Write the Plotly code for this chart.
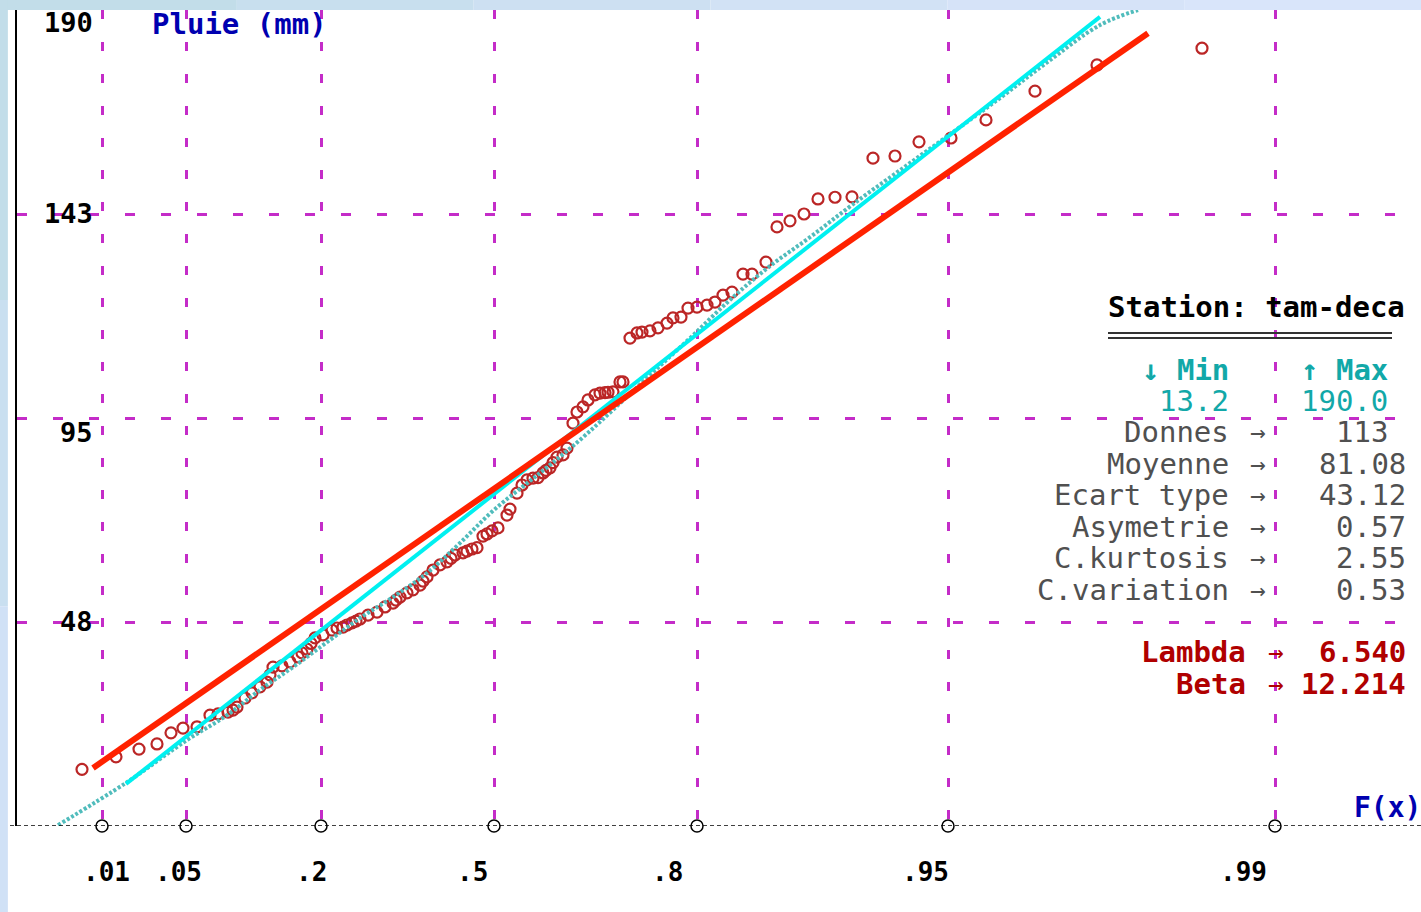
import plotly.graph_objects as go

# ---------------- data ----------------
# x axis: position on the probability paper (reduced variate of F(x))
tick_probs = [".01", ".05", ".2", ".5", ".8", ".95", ".99"]
tick_u = [-1.59, -1.17, -0.495, 0.37, 1.385, 2.64, 4.275]
tick_label_u = [-1.57, -1.21, -0.545, 0.26, 1.235, 2.525, 4.115]

y_ticks = [47.5, 95, 142.5, 190]
y_tick_text = ["48", "95", "143", "190"]
y_tick_label_v = [47.7, 91.7, 142.7, 187.2]

# observed rainfall (mm) against their plotting position
obs_u = [-1.69, -1.52, -1.405, -1.315, -1.245, -1.185, -1.115, -1.05, -1.01, -0.96,
         -0.935, -0.915, -0.875, -0.84, -0.80, -0.765, -0.75, -0.735, -0.69, -0.65,
         -0.61, -0.59, -0.565, -0.545, -0.525, -0.485, -0.44, -0.415, -0.385, -0.365,
         -0.34, -0.32, -0.30, -0.26, -0.215, -0.175, -0.135, -0.12, -0.10, -0.065,
         -0.035, 0.0, 0.015, 0.035, 0.065, 0.10, 0.135, 0.155, 0.175, 0.215,
         0.235, 0.26, 0.285, 0.315, 0.335, 0.36, 0.39, 0.435, 0.45, 0.485,
         0.51, 0.535, 0.565, 0.59, 0.615, 0.63, 0.65, 0.665, 0.685, 0.715,
         0.735, 0.765, 0.785, 0.815, 0.84, 0.875, 0.90, 0.925, 0.94, 0.965,
         1.00, 1.015, 1.05, 1.085, 1.11, 1.15, 1.19, 1.235, 1.265, 1.305,
         1.34, 1.385, 1.435, 1.475, 1.515, 1.56, 1.615, 1.66, 1.73, 1.785,
         1.85, 1.92, 1.99, 2.075, 2.16, 2.265, 2.375, 2.495, 2.655, 2.83,
         3.075, 3.385, 3.91]
obs_mm = [13.2, 16.1, 17.9, 19.1, 21.7, 22.8, 23.1, 25.8, 26.1, 26.5,
          27.0, 27.7, 29.8, 31.0, 32.4, 33.5, 35.2, 37.0, 37.3, 38.2,
          39.4, 40.3, 41.2, 42.5, 43.8, 44.5, 45.6, 46.1, 46.3, 46.8,
          47.3, 47.7, 48.2, 49.1, 49.8, 51.0, 51.9, 52.6, 53.3, 54.3,
          55.0, 56.1, 57.0, 58.0, 59.6, 60.8, 61.5, 62.3, 63.1, 63.6,
          64.0, 64.5, 64.8, 67.5, 68.0, 68.7, 69.4, 72.4, 73.8, 77.5,
          79.4, 80.6, 81.0, 81.1, 82.2, 82.8, 83.4, 84.6, 85.9, 86.4,
          88.0, 93.8, 96.4, 97.6, 99.2, 100.4, 100.8, 100.9, 101.0, 101.1,
          103.4, 103.4, 113.6, 114.8, 115.0, 115.3, 116.0, 117.1, 118.3, 118.5,
          120.6, 120.8, 121.3, 122.0, 123.6, 124.3, 128.5, 128.5, 131.3, 139.5,
          140.9, 142.5, 146.0, 146.4, 146.5, 155.5, 156.0, 159.3, 160.2, 164.4,
          171.1, 177.2, 181.1]

# fitted law (dotted curve)
fit_u = [-1.81, -1.465, -1.165, -0.965, -0.80, -0.635, -0.465, -0.30, -0.135, 0.035,
         0.20, 0.37, 0.60, 0.80, 0.965, 1.15, 1.35, 1.55, 1.745, 1.95,
         2.16, 2.40, 2.645, 2.90, 3.13, 3.40, 3.59]
fit_mm = [0.2, 10.2, 20.0, 25.8, 31.7, 37.0, 42.8, 48.4, 53.3, 58.9,
          65.9, 73.6, 82.2, 89.9, 96.9, 105.0, 113.6, 122.5, 130.2, 137.1,
          144.6, 152.7, 160.9, 169.5, 177.6, 186.5, 190.0]

# straight fits
cyan_u = [-1.47, 3.40]
cyan_mm = [9.8, 188.4]
red_u = [-1.635, 3.64]
red_mm = [13.5, 184.6]

station = "tam-deca"
v_min, v_max = "13.2", "190.0"
stat_names = ["Donnes", "Moyenne", "Ecart type", "Asymetrie", "C.kurtosis", "C.variation"]
stat_values = ["113\u00a0", "81.08", "43.12", "0.57", "2.55", "0.53"]
stat_v = [91.7, 84.3, 77.1, 69.6, 62.4, 54.9]
param_names = ["Lambda", "Beta"]
param_values = ["6.540", "12.214"]
param_v = [40.5, 33.1]

# ---------------- style ----------------
MONO = "DejaVu Sans Mono"
GRID = "#c42cc8"
TEAL = "#12a8a8"
GREY = "#505050"
DRED = "#b00000"
BLUE = "#0000b0"

fig = go.Figure()

fig.add_trace(go.Scatter(x=obs_u, y=obs_mm, mode="markers",
                         marker=dict(symbol="circle-open", size=11, color="#bb2626",
                                     line=dict(width=2.2, color="#bb2626")),
                         showlegend=False, hoverinfo="skip"))
fig.add_trace(go.Scatter(x=fit_u, y=fit_mm, mode="lines",
                         line=dict(color="#50bcbc", width=4, dash="3px,2px", shape="spline"),
                         showlegend=False, hoverinfo="skip"))
fig.add_trace(go.Scatter(x=cyan_u, y=cyan_mm, mode="lines",
                         line=dict(color="#00f0f0", width=4),
                         showlegend=False, hoverinfo="skip"))
fig.add_trace(go.Scatter(x=red_u, y=red_mm, mode="lines",
                         line=dict(color="#ff2200", width=6),
                         showlegend=False, hoverinfo="skip"))
fig.add_trace(go.Scatter(x=tick_u, y=[0] * len(tick_u), mode="markers",
                         marker=dict(symbol="circle-open", size=12, color="black",
                                     line=dict(width=1.5, color="black")),
                         cliponaxis=False, showlegend=False, hoverinfo="skip"))

ann = []
for u, t in zip(tick_label_u, tick_probs):
    ann.append(dict(x=u, y=-0.0564, xref="x", yref="paper", text=t, showarrow=False,
                    xanchor="center", yanchor="middle",
                    font=dict(family=MONO, size=26, color="black", weight="bold")))
for v, t in zip(y_tick_label_v, y_tick_text):
    ann.append(dict(x=-1.625, y=v, xref="x", yref="y", text=t, showarrow=False,
                    xanchor="right", yanchor="middle",
                    font=dict(family=MONO, size=27, color="black", weight="bold")))
ann.append(dict(x=-1.35, y=186.7, text="Pluie (mm)", showarrow=False, xanchor="left",
                yanchor="middle", font=dict(family=MONO, size=29, color=BLUE, weight="bold")))
ann.append(dict(x=4.66, y=4.2, text="F(x)", showarrow=False, xanchor="left",
                yanchor="middle", font=dict(family=MONO, size=28, color=BLUE, weight="bold")))
ann.append(dict(x=4.935, y=120.8, text="Station: " + station, showarrow=False,
                xanchor="right", yanchor="middle",
                font=dict(family=MONO, size=29, color="black", weight="bold")))
ann.append(dict(x=4.055, y=106.2, text="\u2193 Min", showarrow=False, xanchor="right",
                yanchor="middle", font=dict(family=MONO, size=29, color=TEAL, weight="bold")))
ann.append(dict(x=4.85, y=106.2, text="\u2191 Max", showarrow=False, xanchor="right",
                yanchor="middle", font=dict(family=MONO, size=29, color=TEAL, weight="bold")))
ann.append(dict(x=4.055, y=99.0, text=v_min, showarrow=False, xanchor="right",
                yanchor="middle", font=dict(family=MONO, size=29, color=TEAL)))
ann.append(dict(x=4.85, y=99.0, text=v_max, showarrow=False, xanchor="right",
                yanchor="middle", font=dict(family=MONO, size=29, color=TEAL)))
for n, val, v in zip(stat_names, stat_values, stat_v):
    ann.append(dict(x=4.055, y=v, text=n, showarrow=False, xanchor="right",
                    yanchor="middle", font=dict(family=MONO, size=29, color=GREY)))
    ann.append(dict(x=4.19, y=v, text="\u2192", showarrow=False, xanchor="center",
                    yanchor="middle", font=dict(family=MONO, size=26, color=GREY)))
    ann.append(dict(x=4.94, y=v, text=val, showarrow=False, xanchor="right",
                    yanchor="middle", font=dict(family=MONO, size=29, color=GREY)))
for n, val, v in zip(param_names, param_values, param_v):
    ann.append(dict(x=4.14, y=v, text=n, showarrow=False, xanchor="right",
                    yanchor="middle", font=dict(family=MONO, size=29, color=DRED, weight="bold")))
    ann.append(dict(x=4.28, y=v, text="\u2192", showarrow=False, xanchor="center",
                    yanchor="middle", font=dict(family=MONO, size=26, color=DRED)))
    ann.append(dict(x=4.94, y=v, text=val, showarrow=False, xanchor="right",
                    yanchor="middle", font=dict(family=MONO, size=29, color=DRED, weight="bold")))

shapes = []
# dashed horizontal axis
shapes.append(dict(type="line", xref="paper", yref="y", x0=-0.005, x1=1, y0=0, y1=0,
                   line=dict(color="black", width=1.5, dash="4px,3px"), layer="above"))
# double underline of the station title
for yv in (114.8, 113.6):
    shapes.append(dict(type="line", xref="x", yref="y", x0=3.44, x1=4.86, y0=yv, y1=yv,
                       line=dict(color="#333333", width=2)))
# light blue window frame strips
top_cols = ["#c2dde9", "#c8dfee", "#cde0f2", "#d2e2f5", "#d6e3f8", "#d9e5fa"]
n = len(top_cols)
x_left = -0.0121
for i, c in enumerate(top_cols):
    shapes.append(dict(type="rect", xref="paper", yref="paper",
                       x0=x_left + (1 - x_left) * i / n, x1=x_left + (1 - x_left) * (i + 1) / n,
                       y0=1.0, y1=1.02, fillcolor=c, line=dict(width=0), layer="above"))
left_cols = ["#c2dde9", "#c9dff0", "#d0e1f6"]
y_bot, y_top = -0.106, 1.02
for i, c in enumerate(left_cols):
    shapes.append(dict(type="rect", xref="paper", yref="paper",
                       x0=-0.0125, x1=-0.0065,
                       y0=y_top - (y_top - y_bot) * (i + 1) / 3, y1=y_top - (y_top - y_bot) * i / 3,
                       fillcolor=c, line=dict(width=0), layer="above"))

fig.update_layout(
    width=1421, height=912, autosize=False,
    margin=dict(l=17, r=0, t=10, b=86, pad=0),
    paper_bgcolor="white", plot_bgcolor="white",
    xaxis=dict(range=[-2.015, 5.005], tickvals=tick_u, showticklabels=False, ticks="",
               showgrid=True, gridcolor=GRID, gridwidth=2.5, griddash="9px,23px",
               zeroline=False, showline=False, fixedrange=True),
    yaxis=dict(range=[0, 190], tickvals=y_ticks, showticklabels=False, ticks="",
               showgrid=True, gridcolor=GRID, gridwidth=2.5, griddash="10px,26px",
               zeroline=False, showline=True, linecolor="black", linewidth=2,
               fixedrange=True),
    annotations=ann, shapes=shapes, showlegend=False,
)

fig.write_html("out.html", config={"displayModeBar": False},
               post_script="document.body.style.margin='0';")
